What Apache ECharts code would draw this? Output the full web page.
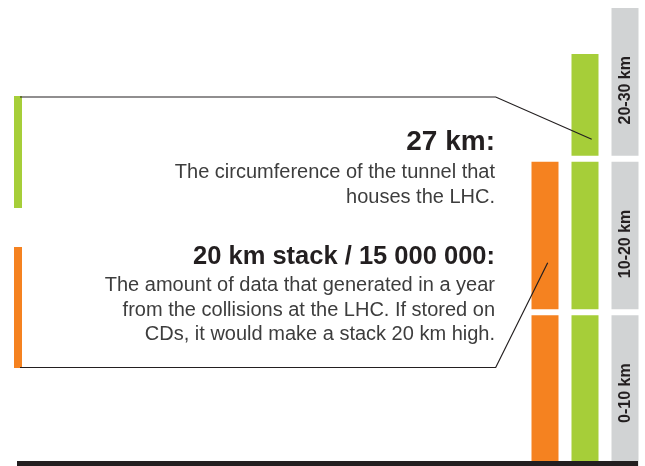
<!DOCTYPE html>
<html>
<head>
<meta charset="utf-8">
<script src="https://cdn.jsdelivr.net/npm/echarts@6/dist/echarts.min.js"></script>
<style>
  html, body { margin: 0; padding: 0; background: #ffffff; }
  #chart { width: 645px; height: 466px; }
</style>
</head>
<body>
<div id="chart"></div>
<script>
// ---- data ----
const categories = ['CD stack', 'LHC tunnel', 'Scale'];
const cdStackKm = 20;
const tunnelKm = 27;
const scaleMaxKm = 30;
const segmentKm = 10;
const scaleLabels = ['0-10 km', '10-20 km', '20-30 km'];

const titleTunnel = '27 km:';
const textTunnel = ['The circumference of the tunnel that', 'houses the LHC.'];
const titleCd = '20 km stack / 15 000 000:';
const textCd = ['The amount of data that generated in a year',
                'from the collisions at the LHC. If stored on',
                'CDs, it would make a stack 20 km high.'];

// ---- build segments (10 km chunks) ----
function segments(catIndex, total, kind) {
  const out = [];
  for (let lo = 0; lo < total; lo += segmentKm) {
    out.push([catIndex, lo, Math.min(lo + segmentKm, total), kind]);
  }
  return out;
}
const data = []
  .concat(segments(0, cdStackKm, 0))
  .concat(segments(1, tunnelKm, 1))
  .concat(segments(2, scaleMaxKm, 2));

const COLORS = ['#f58220', '#a6ce39', '#d1d3d4'];
const DARK = '#231f20';
const BODY = '#3d3d3d';
const FONT = '"Liberation Sans", Arial, sans-serif';

function renderItem(params, api) {
  const cat = api.value(0), lo = api.value(1), hi = api.value(2), kind = api.value(3);
  const pLo = api.coord([cat, lo]);
  const pHi = api.coord([cat, hi]);
  const bw = api.size([1, 0])[0] * 0.675;
  const gap = 3;
  const y0 = pHi[1] + gap;
  const y1 = lo === 0 ? pLo[1] : pLo[1] - gap;
  const children = [{
    type: 'rect',
    shape: { x: pLo[0] - bw / 2, y: y0, width: bw, height: y1 - y0 },
    style: { fill: COLORS[kind] }
  }];
  if (kind === 2) {
    const idx = Math.round(lo / segmentKm);
    children.push({
      type: 'text',
      x: pLo[0] + 0.5,
      y: y0 + 48,
      rotation: Math.PI / 2,
      style: {
        text: scaleLabels[idx],
        fill: DARK,
        font: 'bold 16px ' + FONT,
        align: 'right',
        verticalAlign: 'middle'
      }
    });
  }
  return { type: 'group', children: children };
}

const chart = echarts.init(document.getElementById('chart'), null, { renderer: 'canvas' });

function txt(text, y, size, bold, color) {
  return {
    type: 'text',
    x: 495, y: y,
    z: 100,
    style: {
      text: text,
      fill: color,
      font: (bold ? 'bold ' : '') + size + 'px ' + FONT,
      align: 'right',
      verticalAlign: 'middle'
    }
  };
}

const graphics = [
  // callout 1 (tunnel)
  { type: 'rect', z: 100, shape: { x: 14, y: 96, width: 8, height: 112 }, style: { fill: COLORS[1] } },
  { type: 'polyline', z: 100, shape: { points: [[20, 97], [495.7, 97], [591.7, 139.3]] },
    style: { stroke: DARK, lineWidth: 1.2, fill: null } },
  txt(titleTunnel, 142, 28, true, DARK),
  txt(textTunnel[0], 172, 20, false, BODY),
  txt(textTunnel[1], 197, 20, false, BODY),
  // callout 2 (CD stack)
  { type: 'rect', z: 100, shape: { x: 14, y: 247, width: 8, height: 121 }, style: { fill: COLORS[0] } },
  { type: 'polyline', z: 100, shape: { points: [[20, 367.5], [495.7, 367.5], [547.7, 262.7]] },
    style: { stroke: DARK, lineWidth: 1.2, fill: null } },
  txt(titleCd, 256.5, 25.5, true, DARK),
  txt(textCd[0], 285.5, 20, false, BODY),
  txt(textCd[1], 310, 20, false, BODY),
  txt(textCd[2], 334.5, 20, false, BODY),
  // ground line
  { type: 'rect', shape: { x: 17, y: 461, width: 621, height: 5 }, style: { fill: DARK }, z: 100 }
];

chart.setOption({
  animation: false,
  backgroundColor: '#ffffff',
  grid: { left: 525, right: 0, top: 5, bottom: 0, containLabel: false },
  xAxis: { type: 'category', data: categories, show: false },
  yAxis: { type: 'value', min: 0, max: scaleMaxKm, show: false },
  series: [{
    type: 'custom',
    renderItem: renderItem,
    encode: { x: 0, y: [1, 2] },
    data: data,
    silent: true
  }],
  graphic: graphics
});
</script>
</body>
</html>
